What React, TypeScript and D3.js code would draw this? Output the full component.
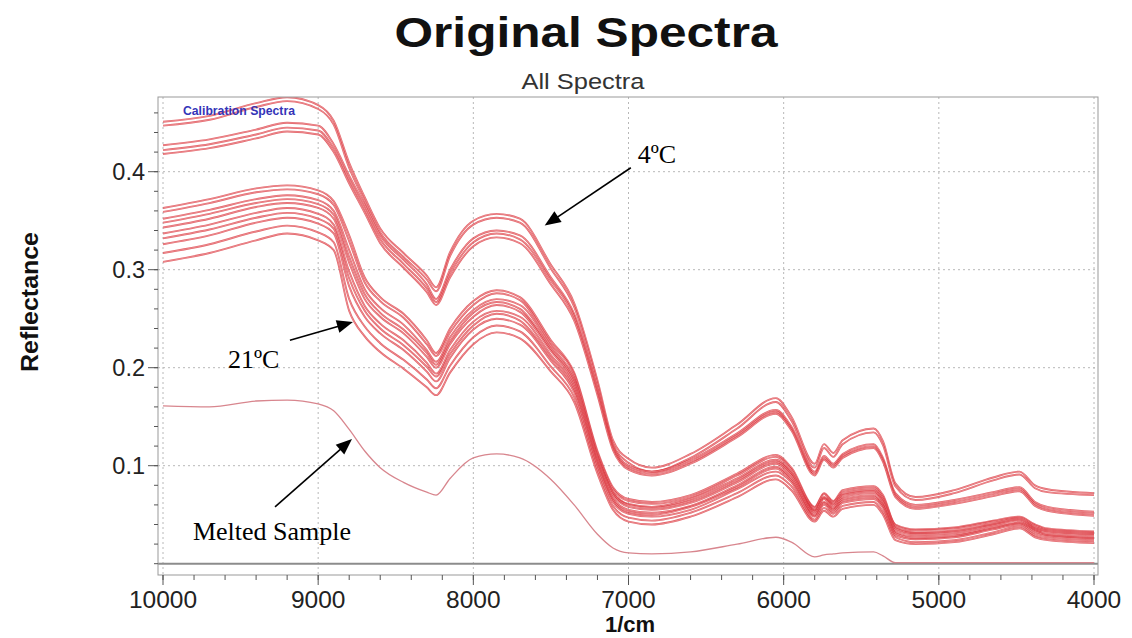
import React from 'react';
import * as d3 from 'd3';

// Wavenumber grid (1/cm)
const wavenumbers = [10000, 9700, 9400, 9200, 9000, 8900, 8800, 8700, 8600, 8450, 8300, 8240, 8150, 8000, 7850, 7700, 7500, 7350, 7200, 7100, 7000, 6850, 6600, 6300, 6050, 5950, 5800, 5740, 5680, 5620, 5420, 5360, 5280, 5150, 4900, 4650, 4480, 4380, 4300, 4000];

// 4ºC spectra
const cold1 = [.451, .457, .470, .476, .468, .452, .409, .374, .342, .317, .294, .282, .318, .350, .357, .352, .305, .266, .187, .126, .107, .098, .112, .142, .169, .150, .102, .122, .113, .126, .138, .125, .082, .068, .075, .088, .094, .080, .076, .072];
const cold2 = [.447, .453, .466, .472, .464, .448, .404, .370, .338, .313, .290, .278, .314, .346, .353, .348, .301, .262, .183, .122, .103, .094, .108, .138, .165, .146, .098, .118, .109, .122, .134, .121, .079, .065, .072, .085, .091, .077, .073, .070];
const cold3 = [.427, .433, .443, .450, .447, .428, .396, .366, .335, .310, .285, .270, .300, .332, .340, .335, .292, .255, .178, .120, .100, .094, .106, .133, .157, .140, .094, .110, .102, .112, .122, .108, .072, .060, .065, .073, .078, .063, .058, .053];
const cold4 = [.422, .428, .438, .445, .442, .424, .392, .362, .331, .306, .281, .267, .296, .328, .337, .331, .289, .252, .175, .118, .098, .092, .104, .131, .155, .138, .092, .108, .100, .110, .120, .106, .070, .058, .063, .071, .076, .061, .056, .051];
const cold5 = [.418, .424, .434, .441, .438, .420, .388, .358, .327, .302, .277, .264, .292, .324, .333, .327, .285, .248, .172, .116, .096, .090, .102, .129, .153, .136, .090, .106, .098, .108, .118, .104, .068, .056, .061, .069, .074, .059, .054, .049];

// 21ºC spectra
const room1 = [.363, .372, .383, .386, .381, .370, .335, .292, .272, .255, .228, .215, .240, .268, .279, .272, .228, .195, .115, .078, .066, .063, .070, .092, .111, .098, .058, .072, .064, .075, .079, .070, .040, .035, .037, .044, .048, .040, .036, .033];
const room2 = [.359, .368, .379, .382, .377, .366, .329, .287, .268, .251, .224, .212, .236, .264, .276, .269, .225, .193, .113, .076, .064, .061, .068, .090, .109, .096, .057, .071, .063, .073, .077, .068, .039, .034, .036, .043, .047, .039, .035, .032];
const room3 = [.352, .361, .372, .376, .371, .360, .320, .280, .261, .244, .218, .206, .231, .259, .270, .264, .222, .189, .110, .073, .061, .058, .066, .087, .106, .093, .055, .068, .061, .071, .075, .066, .037, .032, .034, .041, .046, .037, .034, .031];
const room4 = [.348, .357, .368, .372, .367, .356, .313, .275, .256, .239, .215, .203, .227, .256, .267, .260, .219, .187, .109, .072, .060, .057, .064, .085, .104, .092, .054, .067, .060, .070, .074, .064, .036, .031, .033, .040, .045, .036, .033, .030];
const room5 = [.343, .352, .364, .368, .363, .352, .307, .270, .252, .235, .211, .200, .224, .252, .264, .257, .217, .184, .107, .070, .058, .055, .062, .083, .102, .090, .053, .066, .058, .068, .072, .063, .034, .030, .032, .039, .044, .035, .032, .029];
const room6 = [.337, .346, .358, .363, .357, .346, .298, .263, .245, .228, .205, .194, .218, .247, .258, .252, .213, .181, .104, .067, .055, .052, .059, .080, .099, .087, .051, .063, .056, .066, .070, .060, .032, .028, .030, .037, .042, .034, .030, .027];
const room7 = [.332, .341, .353, .358, .352, .342, .291, .258, .240, .223, .201, .191, .214, .243, .255, .248, .210, .178, .102, .065, .053, .050, .058, .078, .097, .085, .049, .062, .055, .064, .068, .059, .031, .026, .028, .036, .041, .033, .029, .026];
const room8 = [.326, .335, .348, .353, .347, .337, .283, .252, .235, .218, .196, .186, .210, .239, .250, .244, .207, .175, .100, .063, .051, .048, .055, .076, .094, .083, .048, .060, .053, .062, .066, .057, .029, .025, .027, .035, .040, .031, .028, .025];
const room9 = [.317, .326, .339, .345, .338, .328, .270, .242, .225, .208, .188, .179, .202, .231, .243, .237, .201, .170, .096, .059, .047, .044, .052, .072, .090, .079, .045, .057, .051, .059, .063, .053, .027, .022, .024, .032, .038, .029, .026, .023];
const room10 = [.308, .317, .330, .337, .330, .320, .258, .232, .216, .199, .180, .172, .195, .224, .236, .230, .196, .165, .092, .055, .043, .040, .048, .068, .086, .075, .043, .054, .048, .056, .060, .050, .024, .020, .022, .030, .036, .027, .024, .021];

// Melted sample
const melted = [.161, .160, .166, .167, .163, .156, .137, .115, .098, .083, .073, .070, .087, .108, .112, .108, .086, .060, .030, .016, .011, .010, .012, .020, .027, .022, .007, .009, .010, .011, .012, .008, .001, .001, .001, .001, .001, .001, .001, .001];

const coldSpectra = [cold1, cold2, cold3, cold4, cold5];
const roomSpectra = [room1, room2, room3, room4, room5, room6, room7, room8, room9, room10];

const xMajorTicks = [10000, 9000, 8000, 7000, 6000, 5000, 4000];
const yMajorTicks = [0.1, 0.2, 0.3, 0.4];

// annotations in data coordinates: [label, textW, textR, tailW, tailR, tipW, tipR]
const annotations: [string, number, number, number, number, number, number][] = [
  ['4ºC', 6940, 0.409, 6985, 0.404, 7540, 0.345],
  ['21ºC', 9581, 0.1997, 9182, 0.228, 8776, 0.2466],
  ['Melted Sample', 9807, 0.0242, 9278, 0.058, 8782, 0.1272],
];

const W = 1132, H = 638;
const frame = { left: 158, right: 1098, top: 97, bottom: 575 };

export default function App() {
  const x = d3.scaleLinear().domain([10000, 4000]).range([163, 1094]);
  const y = d3.scaleLinear().domain([0, 0.4]).range([563.7, 171.7]);

  const line = d3
    .line<number>()
    .x((_, i) => x(wavenumbers[i]))
    .y((d) => y(d))
    .curve(d3.curveMonotoneX);

  const xMinor = d3.range(4000, 10001, 200);
  const yMinor = d3.range(0, 0.47, 0.02);
  const sans = "Arial, 'Liberation Sans', Helvetica, sans-serif";
  const serif = "'Times New Roman', 'Liberation Serif', serif";

  const arrowHead = (tx: number, ty: number, sx: number, sy: number) => {
    const ang = Math.atan2(ty - sy, tx - sx);
    const len = 16, half = 6.5;
    const bx = tx - len * Math.cos(ang), by = ty - len * Math.sin(ang);
    const px = -Math.sin(ang) * half, py = Math.cos(ang) * half;
    return `${tx},${ty} ${bx + px},${by + py} ${bx - px},${by - py}`;
  };

  const allSpectra = [...roomSpectra, ...coldSpectra];

  return (
    <svg width={W} height={H} style={{ position: 'absolute', left: 0, top: 0, background: '#fff' }}>
      <defs>
        <clipPath id="plotClip">
          <rect x={frame.left} y={frame.top} width={frame.right - frame.left} height={frame.bottom - frame.top} />
        </clipPath>
      </defs>
      <rect x={0} y={0} width={W} height={H} fill="#fff" />

      {/* titles */}
      <text x={586} y={47} textAnchor="middle" fontFamily={sans} fontWeight="bold" fontSize={42} fill="#111" textLength={383} lengthAdjust="spacingAndGlyphs">Original Spectra</text>
      <text x={583} y={89} textAnchor="middle" fontFamily={sans} fontSize={22} fill="#333" textLength={123} lengthAdjust="spacingAndGlyphs">All Spectra</text>

      {/* grid */}
      <g stroke="#b8b8b8" strokeWidth={1} strokeDasharray="2,3">
        {xMajorTicks.map((t) => (
          <line key={'gx' + t} x1={x(t)} x2={x(t)} y1={frame.top} y2={frame.bottom} />
        ))}
        {yMajorTicks.map((t) => (
          <line key={'gy' + t} x1={frame.left} x2={frame.right} y1={y(t)} y2={y(t)} />
        ))}
      </g>

      {/* zero baseline */}
      <line x1={frame.left} x2={frame.right} y1={y(0)} y2={y(0)} stroke="#8c8c8c" strokeWidth={2} />

      {/* spectra */}
      <g clipPath="url(#plotClip)" fill="none">
        <path d={line(melted) || ''} stroke="#d8868e" strokeWidth={1.3} />
        {allSpectra.map((s, i) => (
          <g key={'s' + i}>
            <path d={line(s) || ''} stroke="#d8262e" strokeOpacity={0.72} strokeWidth={1.9} />
            <path d={line(s) || ''} stroke="#f8d4d4" strokeOpacity={0.7} strokeWidth={0.5} />
          </g>
        ))}
      </g>

      {/* frame */}
      <rect x={frame.left} y={frame.top} width={frame.right - frame.left} height={frame.bottom - frame.top} fill="none" stroke="#999" strokeWidth={1} />

      {/* y axis ticks */}
      <g stroke="#555" strokeWidth={1}>
        {yMinor.map((t) => (
          <line key={'ym' + t} x1={frame.left - 4} x2={frame.left} y1={y(t)} y2={y(t)} />
        ))}
        {yMajorTicks.map((t) => (
          <line key={'yM' + t} x1={frame.left - 10} x2={frame.left} y1={y(t)} y2={y(t)} />
        ))}
      </g>
      {yMajorTicks.map((t) => (
        <text key={'yl' + t} x={145} y={y(t) + 8} textAnchor="end" fontFamily={sans} fontSize={23.5} fill="#222">
          {d3.format('.1f')(t)}
        </text>
      ))}

      {/* x axis ticks */}
      <g stroke="#555" strokeWidth={1}>
        {xMinor.map((t) => (
          <line key={'xm' + t} x1={x(t)} x2={x(t)} y1={frame.bottom} y2={frame.bottom + 5} />
        ))}
        {xMajorTicks.map((t) => (
          <line key={'xM' + t} x1={x(t)} x2={x(t)} y1={frame.bottom} y2={frame.bottom + 10} />
        ))}
      </g>
      {xMajorTicks.map((t) => (
        <text key={'xl' + t} x={x(t)} y={608} textAnchor="middle" fontFamily={sans} fontSize={24.5} fill="#222">
          {t}
        </text>
      ))}

      {/* axis titles */}
      <text x={630} y={632} textAnchor="middle" fontFamily={sans} fontWeight="bold" fontSize={22} fill="#111">1/cm</text>
      <text transform="translate(38,302) rotate(-90)" textAnchor="middle" fontFamily={sans} fontWeight="bold" fontSize={23} fill="#111" textLength={140} lengthAdjust="spacingAndGlyphs">Reflectance</text>

      {/* legend label */}
      <text x={183} y={115} fontFamily={sans} fontWeight="bold" fontSize={12.5} fill="#3434b8" textLength={112} lengthAdjust="spacingAndGlyphs">Calibration Spectra</text>

      {/* annotations */}
      {annotations.map(([label, tw, tr, sw, sr, ew, er]) => {
        const sx = x(sw), sy = y(sr), ex = x(ew), ey = y(er);
        const ang = Math.atan2(ey - sy, ex - sx);
        const lx = ex - 14 * Math.cos(ang), ly = ey - 14 * Math.sin(ang);
        return (
          <g key={label}>
            <text x={x(tw)} y={y(tr)} fontFamily={serif} fontSize={26} fill="#000">{label}</text>
            <line x1={sx} y1={sy} x2={lx} y2={ly} stroke="#000" strokeWidth={1.6} />
            <polygon points={arrowHead(ex, ey, sx, sy)} fill="#000" />
          </g>
        );
      })}
    </svg>
  );
}
